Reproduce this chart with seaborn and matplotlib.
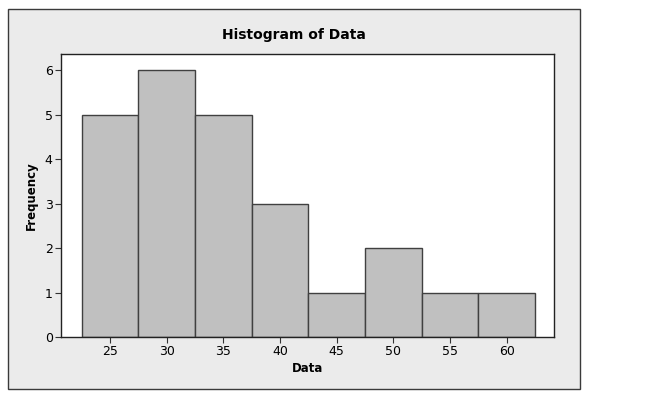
import seaborn as sns
import matplotlib
matplotlib.use("Agg")
from matplotlib import pyplot as plt
from matplotlib.patches import Rectangle

# histogram bins (centre of each bin) and their counts
bin_centers = [25, 30, 35, 40, 45, 50, 55, 60]
counts = [5, 6, 5, 3, 1, 2, 1, 1]
x_ticks = [25, 30, 35, 40, 45, 50, 55, 60]
y_ticks = [0, 1, 2, 3, 4, 5, 6]

sns.set_style("white")
plt.rcParams['font.family'] = ['DejaVu Sans']

W, H = 650, 408
fig = plt.figure(figsize=(W / 100, H / 100), dpi=100)
fig.patch.set_facecolor("white")

# grey outer panel (Minitab style)
fig.patches.append(Rectangle((8 / W, 1 - 389 / H), 572 / W, 380 / H,
                             transform=fig.transFigure, facecolor="#ebebeb",
                             edgecolor="#3a3a3a", linewidth=1.0, zorder=-5))

ax = fig.add_axes([61 / W, 1 - 337 / H, 493 / W, 283 / H])
ax.set_zorder(2)
ax.set_facecolor("white")

sns.histplot(x=bin_centers, weights=counts, binwidth=5, binrange=(22.5, 62.5),
             color="#c0c0c0", edgecolor="#404040", linewidth=1.0, alpha=1.0, ax=ax)

ax.set_xlim(20.68, 64.17)
ax.set_ylim(0, 6.36)
ax.set_xticks(x_ticks)
ax.set_yticks(y_ticks)
ax.tick_params(direction="out", length=4, width=0.8, color="#333333",
               labelsize=9, labelcolor="black", pad=2, bottom=True, left=True)
for s in ax.spines.values():
    s.set_color("#222222")
    s.set_linewidth(1.0)

ax.set_xlabel("Data", fontsize=8.5, fontweight="bold", color="black", labelpad=3)
ax.set_ylabel("Frequency", fontsize=8.5, fontweight="bold", color="black", labelpad=5)
fig.text(294 / W, 1 - 35 / H, "Histogram of Data", ha="center", va="center",
         fontsize=10, fontweight="bold", color="black")

plt.savefig("out.png", dpi=100)
plt.close()
